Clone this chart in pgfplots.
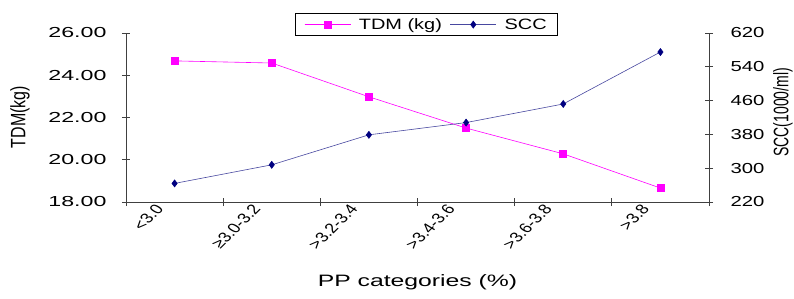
\documentclass[border=0pt]{standalone}
\usepackage{pgfplots}
\pgfplotsset{compat=1.18}
\usepackage{fontspec}
\setmainfont{Liberation Sans}
\definecolor{tdm}{HTML}{FF00FF}
\definecolor{scc}{HTML}{000080}
\definecolor{sccline}{HTML}{4848A0}
\definecolor{axgray}{HTML}{404040}
\newcommand{\sx}[2]{\scalebox{#1}[1]{#2}}
\begin{document}
\begin{tikzpicture}
\useasboundingbox (-126pt,-96pt) rectangle (668pt,202pt);
\begin{axis}[
  scale only axis, width=583pt, height=169pt,
  xmin=0.5, xmax=6.5, ymin=18, ymax=26,
  axis x line*=bottom, axis y line*=left,
  axis line style={axgray, line width=0.8pt, -},
  tick style={axgray, line width=0.8pt},
  tick align=center, major tick length=8pt,
  xtick={0.5,1.5,2.5,3.5,4.5,5.5,6.5},
  xticklabels={<3.0, ≥3.0-3.2, >3.2-3.4, >3.4-3.6, >3.6-3.8, >3.8, {}},
  x tick label style={xscale=1.3, rotate=52, anchor=north east, xshift=19pt, yshift=-12pt, font=\fontsize{14pt}{16pt}\selectfont},
  ytick={18,20,22,24,26},
  yticklabel={\sx{1.6}{\pgfmathprintnumber[fixed, fixed zerofill, precision=2, assume math mode=true]{\tick}}},
  yticklabel style={font=\fontsize{14.5pt}{17pt}\selectfont, xshift=-12pt},
  xlabel={\sx{1.5}{PP categories (\%)}},
  xlabel style={font=\fontsize{16.5pt}{19pt}\selectfont, at={(axis description cs:0.5,-0.5)}, anchor=base},
  ylabel={\scalebox{1}[1.3]{TDM(kg)}},
  ylabel style={font=\fontsize{16pt}{18pt}\selectfont, at={(axis description cs:-0.182,0.503)}, anchor=center},
  legend style={at={(0.5154,1.05)}, anchor=center, legend columns=2, draw=black, line width=0.6pt,
     font=\fontsize{15pt}{17pt}\selectfont, inner ysep=3pt, inner xsep=9pt, column sep=6pt},
  legend image code/.code={\draw[#1] (0pt,0pt) -- (23pt,0pt) -- (46pt,0pt);\draw[#1,mark repeat=2,mark phase=2] plot coordinates {(0pt,0pt) (23pt,0pt) (46pt,0pt)};},
  clip=false,
]
\addplot[tdm, line width=0.6pt, mark=square*, mark size=3.5pt, mark options={solid}] coordinates {
(1,24.68) (2,24.58) (3,22.98) (4,21.50) (5,20.28) (6,18.66)};
\addlegendentry{\sx{1.33}{TDM (kg)}}
\addlegendimage{sccline, line width=0.6pt, mark=diamond*, mark size=3.5pt, mark options={scc}}
\addlegendentry{\sx{1.33}{SCC}}
\end{axis}
\begin{axis}[
  scale only axis, width=583pt, height=169pt,
  xmin=0.5, xmax=6.5, ymin=220, ymax=620,
  axis x line=none, axis y line*=right,
  axis line style={axgray, line width=0.8pt, -},
  tick style={axgray, line width=0.8pt},
  tick align=center, major tick length=8pt,
  ytick={220,300,380,460,540,620},
  yticklabel={\sx{1.4}{\pgfmathprintnumber[assume math mode=true]{\tick}}},
  yticklabel style={font=\fontsize{14.5pt}{17pt}\selectfont, xshift=14pt},
  ylabel={\scalebox{1}[1.5]{SCC(1000/ml)}},
  ylabel style={font=\fontsize{14pt}{16pt}\selectfont, at={(axis description cs:1.127,0.53)}, anchor=center},
  clip=false,
]
\addplot[sccline, line width=0.6pt, mark=diamond*, mark size=3.5pt, mark options={scc, fill=scc}] coordinates {
(1,264) (2,308) (3,379) (4,408) (5,452) (6,575)};
\end{axis}
\end{tikzpicture}
\end{document}
